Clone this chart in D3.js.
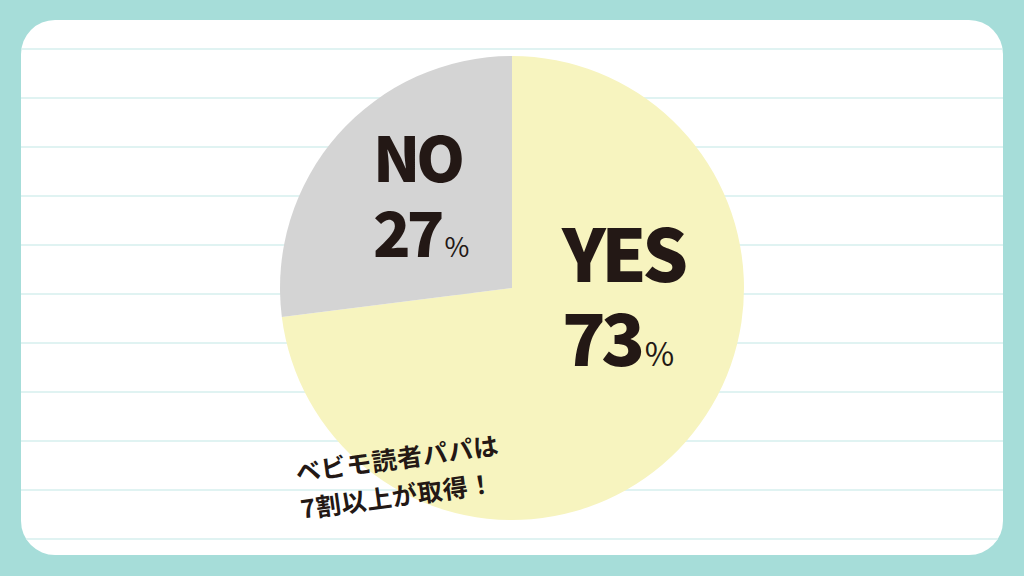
<!DOCTYPE html>
<html><head><meta charset="utf-8">
<script src="https://cdn.jsdelivr.net/npm/d3@7"></script>
<style>html,body{margin:0;padding:0;background:#a6ddd9;}svg{display:block;}</style>
</head><body>
<svg id="c" width="1024" height="576"></svg>
<script>
const categories = ["YES", "NO"];
const values = [73, 27];
const valueLabels = ["73", "27"];
const captionLines = ["ベビモ読者パパは", "7割以上が取得！"];

const svg = d3.select("#c");
const W = 1024, H = 576;
svg.append("rect").attr("width", W).attr("height", H).attr("fill", "#a6ddd9");
svg.append("rect").attr("x", 21).attr("y", 20).attr("width", 982).attr("height", 535)
  .attr("rx", 34).attr("ry", 34).attr("fill", "#ffffff");

// ruled lines
const lineYs = d3.range(11).map(i => 49 + i * 49);
const clip = svg.append("clipPath").attr("id", "card");
clip.append("rect").attr("x", 21).attr("y", 20).attr("width", 982).attr("height", 535).attr("rx", 34);
svg.append("g").attr("clip-path", "url(#card)").selectAll("line").data(lineYs).join("line")
  .attr("x1", 21).attr("x2", 1003).attr("y1", d => d).attr("y2", d => d)
  .attr("stroke", "#d6efee").attr("stroke-width", 1.5);

const cx = 512, cy = 288, r = 232;
const colors = d3.scaleOrdinal().domain(categories).range(["#f7f4bf", "#d4d4d4"]);
const pie = d3.pie().sort(null).value(d => d.v);
const arcs = pie(categories.map((c, i) => ({c, v: values[i], l: valueLabels[i]})));
const arc = d3.arc().innerRadius(0).outerRadius(r);
const g = svg.append("g").attr("transform", `translate(${cx},${cy})`);
g.selectAll("path").data(arcs).join("path").attr("d", arc).attr("fill", d => colors(d.data.c));

const font = "'Noto Sans CJK JP', 'Noto Sans', sans-serif";
const ink = "#231815";
const labelPos = {
  YES: {x: 50, y: -6, size: 72, pct: 32, gap: 84, ls: -4.5},
  NO: {x: -139, y: -106, size: 62, pct: 27, gap: 75, ls: -4}
};
arcs.forEach(d => {
  const p = labelPos[d.data.c];
  const t = g.append("text").attr("x", p.x).attr("y", p.y)
    .attr("font-family", font).attr("font-weight", 900).attr("font-size", p.size)
    .attr("fill", ink);
  t.append("tspan").attr("x", p.x).attr("letter-spacing", p.ls).text(d.data.c);
  t.append("tspan").attr("x", p.x).attr("dy", p.gap).attr("letter-spacing", p.ls).text(d.data.l);
  t.append("tspan").attr("font-size", p.pct).attr("font-weight", 400).attr("dx", 4).attr("letter-spacing", 0).text("%");
});

const cap = svg.append("g").attr("transform", "translate(297,482) rotate(-7.8)");
const ct = cap.append("text").attr("x", 0).attr("y", 0)
  .attr("font-family", font).attr("font-weight", 700).attr("font-size", 25)
  .attr("letter-spacing", 0.6).attr("fill", ink);
captionLines.forEach((s, i) => {
  ct.append("tspan").attr("x", 0).attr("dy", i === 0 ? 0 : 37).text(s);
});
</script>
</body></html>
